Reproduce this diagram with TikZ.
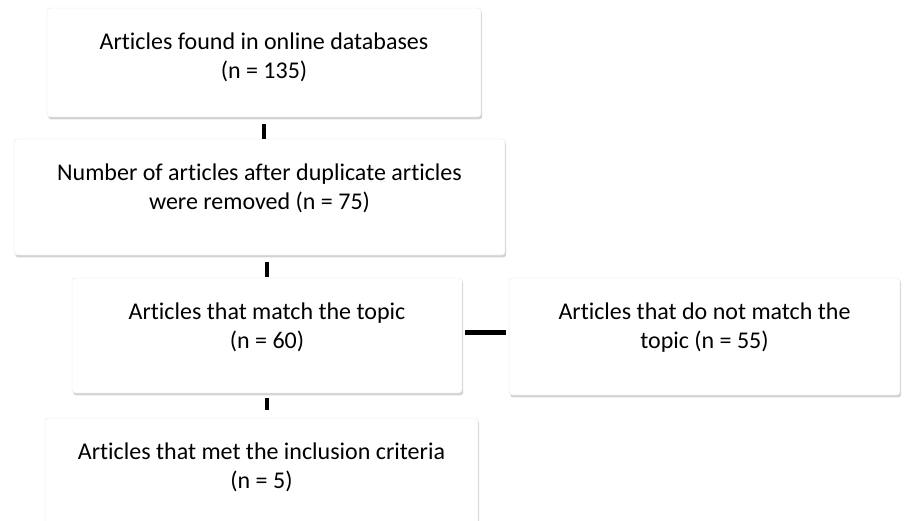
\documentclass[tikz,border=0pt]{standalone}
\usepackage{fontspec}
\setmainfont{Carlito}[Ligatures=NoCommon]
\usepackage{tikz}
\usetikzlibrary{positioning,shadows}

\begin{document}
\begin{tikzpicture}[
  x=1pt, y=1pt,
  box/.style={
    rectangle,
    draw=black!10,
    fill=white,
    rounded corners=3pt,
    drop shadow={opacity=0.35, shadow xshift=1.2pt, shadow yshift=-2.4pt, fill=black!50},
    inner sep=0pt
  },
  boxtext/.style={
    align=center,
    inner sep=0pt,
    font=\fontsize{24}{29}\selectfont
  },
  link/.style={
    line width=4.6pt,
    black
  }
 ]
 \useasboundingbox (0,0) rectangle (904,-521);

 %databases
 \node[box, minimum width=434pt, minimum height=109pt] (found) at (264,-62.5) {};
 \node[boxtext, below=25pt of found.north] (foundtxt) {Articles found in online databases\\(n = 135)};

 %duplicates
 \node[box, minimum width=491pt, minimum height=116pt] (dedup) at (259.5,-197) {};
 \node[boxtext, below=25pt of dedup.north] (deduptxt) {Number of articles after duplicate articles\\were removed (n = 75)};

 %topic
 \node[box, minimum width=390pt, minimum height=115pt] (match) at (267,-335.5) {};
 \node[boxtext, below=25pt of match.north] (matchtxt) {Articles that match the topic\\(n = 60)};

 \node[box, minimum width=391pt, minimum height=117pt] (nomatch) at (704.5,-336.5) {};
 \node[boxtext, below=25pt of nomatch.north] (nomatchtxt) {Articles that do not match the\\topic (n = 55)};

 %criteria
 \node[box, minimum width=433pt, minimum height=115pt] (incl) at (261.5,-475.5) {};
 \node[boxtext, below=25pt of incl.north] (incltxt) {Articles that met the inclusion criteria\\(n = 5)};

 %lines
 \draw[link, shorten <=7pt] (found.south) -- (found.south |- dedup.north);
 \draw[link, shorten <=7pt, shorten >=1pt] (dedup.south -| match.north) -- (match.north);
 \draw[link, shorten <=5pt, shorten >=8pt] (match.south) -- (match.south |- incl.north);
 \draw[link, shorten <=3pt, shorten >=3pt] ([yshift=3pt]match.east) -- ([yshift=3pt]match.east -| nomatch.west);
\end{tikzpicture}
\end{document}
